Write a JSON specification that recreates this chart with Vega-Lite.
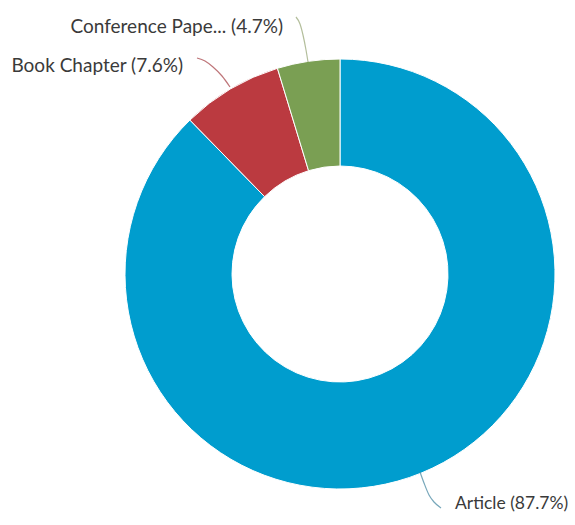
{
  "$schema": "https://vega.github.io/schema/vega-lite/v6.json",
  "width": 430,
  "height": 430,
  "autosize": {"type": "none"},
  "padding": {"left": 125, "top": 59, "right": 20, "bottom": 36},
  "background": "white",
  "view": {"stroke": null},
  "datasets": {
    "slices": [
      {"type": "Article", "pct": 87.7, "ord": 1},
      {"type": "Book Chapter", "pct": 7.6, "ord": 2},
      {"type": "Conference Paper", "pct": 4.7, "ord": 3}
    ],
    "labels": [
      {"type": "Conference Paper", "label": "Conference Pape... (4.7%)", "lx": -0.2651, "ly": 1.1488, "side": "right"},
      {"type": "Book Chapter", "label": "Book Chapter (7.6%)", "lx": -0.7302, "ly": 0.9674, "side": "right"},
      {"type": "Article", "label": "Article (87.7%)", "lx": 0.5349, "ly": -1.0698, "side": "left"}
    ],
    "leaders": [
      {"type": "Conference Paper", "px": -0.2047, "py": 1.1953},
      {"type": "Conference Paper", "px": -0.1860, "py": 1.1628},
      {"type": "Conference Paper", "px": -0.1721, "py": 1.1116},
      {"type": "Conference Paper", "px": -0.1581, "py": 1.0419},
      {"type": "Conference Paper", "px": -0.1488, "py": 0.9860},
      {"type": "Book Chapter", "px": -0.6651, "py": 1.0047},
      {"type": "Book Chapter", "px": -0.6279, "py": 0.9907},
      {"type": "Book Chapter", "px": -0.5907, "py": 0.9628},
      {"type": "Book Chapter", "px": -0.5488, "py": 0.9209},
      {"type": "Book Chapter", "px": -0.5116, "py": 0.8698},
      {"type": "Article", "px": 0.3721, "py": -0.9209},
      {"type": "Article", "px": 0.3907, "py": -0.9721},
      {"type": "Article", "px": 0.4140, "py": -1.0279},
      {"type": "Article", "px": 0.4372, "py": -1.0605},
      {"type": "Article", "px": 0.4698, "py": -1.0884}
    ]
  },
  "layer": [
    {
      "data": {"name": "slices"},
      "mark": {"type": "arc", "outerRadius": 215, "innerRadius": 108, "stroke": "white", "strokeWidth": 1},
      "encoding": {
        "theta": {"field": "pct", "type": "quantitative", "stack": true},
        "order": {"field": "ord", "type": "quantitative"},
        "color": {
          "field": "type",
          "type": "nominal",
          "legend": null,
          "scale": {"domain": ["Article", "Book Chapter", "Conference Paper"], "range": ["#009dce", "#bb3a40", "#7a9f53"]}
        }
      }
    },
    {
      "data": {"name": "leaders"},
      "mark": {"type": "line", "interpolate": "monotone", "strokeWidth": 1.2, "opacity": 0.75},
      "encoding": {
        "x": {"field": "px", "type": "quantitative", "axis": null, "scale": {"domain": [-1, 1], "nice": false, "zero": false}},
        "y": {"field": "py", "type": "quantitative", "axis": null, "scale": {"domain": [-1, 1], "nice": false, "zero": false}},
        "detail": {"field": "type"},
        "color": {
          "field": "type",
          "type": "nominal",
          "legend": null,
          "scale": {"domain": ["Article", "Book Chapter", "Conference Paper"], "range": ["#4a8aa3", "#a8474c", "#99a87a"]}
        }
      }
    },
    {
      "data": {"name": "labels"},
      "transform": [{"filter": "datum.side === 'right'"}],
      "mark": {"type": "text", "align": "right", "baseline": "middle", "font": "Lato", "fontSize": 19, "color": "#3a3a3a"},
      "encoding": {
        "x": {"field": "lx", "type": "quantitative", "axis": null, "scale": {"domain": [-1, 1], "nice": false, "zero": false}},
        "y": {"field": "ly", "type": "quantitative", "axis": null, "scale": {"domain": [-1, 1], "nice": false, "zero": false}},
        "text": {"field": "label"}
      }
    },
    {
      "data": {"name": "labels"},
      "transform": [{"filter": "datum.side === 'left'"}],
      "mark": {"type": "text", "align": "left", "baseline": "middle", "font": "Lato", "fontSize": 17.5, "color": "#3a3a3a"},
      "encoding": {
        "x": {"field": "lx", "type": "quantitative", "axis": null, "scale": {"domain": [-1, 1], "nice": false, "zero": false}},
        "y": {"field": "ly", "type": "quantitative", "axis": null, "scale": {"domain": [-1, 1], "nice": false, "zero": false}},
        "text": {"field": "label"}
      }
    }
  ],
  "resolve": {"scale": {"color": "independent"}}
}
